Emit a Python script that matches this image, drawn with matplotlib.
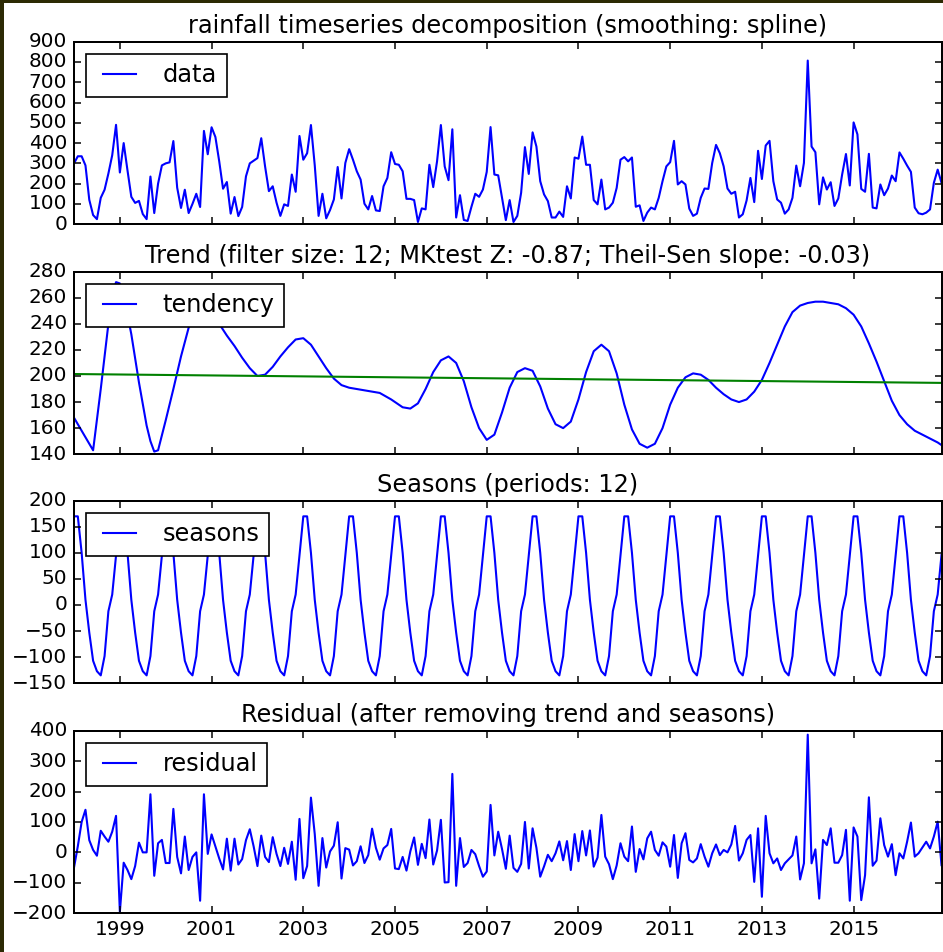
import numpy as np
import matplotlib.pyplot as plt
from matplotlib.patches import Rectangle

#Monthly rainfall, first value is January 1998.
start_year = 1998
rainfall = [300, 335, 335, 290, 120, 45, 25, 130, 170, 250, 340, 490,
            255, 400, 265, 135, 105, 115, 50, 25, 235, 55, 200, 290,
            300, 305, 410, 180, 80, 170, 55, 100, 150, 85, 460, 345,
            478, 430, 310, 175, 208, 52, 134, 40, 85, 236, 300, 313,
            326, 424, 285, 163, 187, 106, 41, 98, 90, 245, 160, 435,
            318, 350, 489, 290, 41, 150, 29, 70, 122, 282, 127, 302,
            370, 318, 261, 220, 101, 73, 139, 68, 65, 187, 228, 355,
            297, 293, 261, 125, 125, 119, 11, 78, 73, 293, 183, 310,
            489, 285, 217, 468, 33, 143, 21, 16, 86, 150, 135, 171,
            258, 479, 245, 241, 130, 20, 119, 11, 41, 155, 380, 248,
            453, 383, 212, 147, 114, 33, 33, 62, 36, 187, 127, 329,
            323, 432, 293, 293, 119, 98, 220, 73, 82, 106, 179, 318,
            331, 310, 329, 86, 93, 16, 57, 82, 73, 130, 212, 285,
            306, 411, 196, 212, 196, 77, 41, 52, 130, 176, 174, 302,
            391, 350, 285, 176, 150, 160, 33, 49, 117, 228, 109, 362,
            223, 388, 411, 212, 122, 106, 52, 73, 130, 289, 187, 302,
            807, 383, 355, 98, 231, 171, 207, 90, 127, 245, 346, 191,
            502, 443, 174, 160, 347, 82, 78, 196, 143, 176, 240, 212,
            354, 323, 289, 258, 82, 54, 49, 57, 73, 204, 269, 204]

#Smoothed trend, sampled at these month indices.
trend_months = [0, 2, 4, 5, 7, 9, 10, 11, 12, 13, 15, 17, 19, 20, 21, 22, 24, 26, 28, 30,
                32, 34, 36, 38, 40, 42, 44, 46, 48, 50, 52, 54, 56, 58, 60, 62, 64, 66, 68, 70,
                72, 76, 80, 83, 86, 88, 90, 92, 94, 96, 98, 100, 102, 104, 106, 108, 110, 112, 114, 116,
                118, 120, 122, 124, 126, 128, 130, 132, 134, 136, 138, 140, 142, 144, 146, 148, 150, 152, 154, 156,
                158, 160, 162, 164, 166, 168, 170, 172, 174, 176, 178, 180, 182, 184, 186, 188, 190, 192, 194, 196,
                198, 200, 202, 204, 206, 208, 210, 212, 214, 216, 218, 220, 222, 224, 226, 227]
trend_values = [168, 158, 148, 143, 190, 240, 262, 272, 271, 262, 232, 195, 162, 150, 142, 143, 166, 190, 215, 237,
                249, 253, 249, 240, 231, 223, 214, 206, 200, 201, 207, 215, 222, 228, 229, 224, 215, 206, 198, 193,
                191, 189, 187, 182, 176, 175, 179, 190, 203, 212, 215, 210, 196, 176, 160, 151, 155, 172, 191, 203,
                206, 204, 192, 175, 163, 160, 165, 182, 203, 219, 224, 219, 202, 178, 159, 148, 145, 148, 160, 178,
                191, 199, 202, 201, 197, 191, 186, 182, 180, 182, 188, 197, 210, 224, 238, 249, 254, 256, 257, 257,
                256, 255, 252, 247, 238, 225, 211, 196, 181, 170, 163, 158, 155, 152, 149, 147]

#Theil-Sen line, value at first and last month.
theil_sen_ends = [201.5, 194.7]

#One year of seasonal values (Jan..Dec).
season_year = [170, 170, 100, 10, -53, -107, -127, -135, -98, -12, 20, 96]

residual = [-50, 20, 100, 140, 40, 8, -11, 71, 52, 35, 68, 120,
            -196, -34, -58, -88, -45, 32, 0, 0, 191, -77, 30, 41,
            -35, -35, 143, -15, -69, 52, -58, -15, 0, -159, 191, -5,
            59, 20, -20, -56, 45, -60, 45, -40, -22, 40, 76, 20,
            -45, 55, -15, -32, 50, -5, -45, 15, -38, 35, -90, 110,
            -85, -45, 180, 60, -110, 47, -50, 3, 22, 99, -86, 14,
            9, -43, -29, 20, -35, -9, 78, 15, -24, 13, 24, 77,
            -53, -55, -15, -60, 3, 49, -41, 28, -19, 108, -40, 6,
            107, -99, -98, 258, -110, 47, -48, -35, 8, -6, -45, -80,
            -63, 156, -10, 68, 11, -54, 55, -51, -64, -38, 100, -53,
            79, 15, -80, -46, -8, -29, -3, 36, -26, 37, -58, 60,
            -29, 70, -10, 72, -47, -17, 123, -14, -39, -88, -43, 30,
            -14, -29, 85, -64, 11, -23, 46, 68, 8, -11, 33, 19,
            -47, 57, -84, 30, 63, -25, -33, -20, 27, -14, -47, -3,
            26, -9, 8, 0, 26, 87, -27, -3, 41, 57, -97, 79,
            -146, 120, -3, -36, -20, -58, -36, -23, -10, 52, -89, -36,
            387, -36, 10, -152, 41, 24, 79, -34, -34, -9, 74, -159,
            82, 52, -157, -75, 181, -44, -27, 112, 24, -14, 27, -75,
            -3, -20, 35, 98, -14, -3, 16, 35, 13, 52, 101, -42]

year_ticks = [1999, 2001, 2003, 2005, 2007, 2009, 2011, 2013, 2015]

titles = ['rainfall timeseries decomposition (smoothing: spline)',
          'Trend (filter size: 12; MKtest Z: -0.87; Theil-Sen slope: -0.03)',
          'Seasons (periods: 12)',
          'Residual (after removing trend and seasons)']
labels = ['data', 'tendency', 'seasons', 'residual']


def main():
    plt.style.use('classic')
    plt.rcParams['lines.linewidth'] = 1.25
    plt.rcParams['axes.linewidth'] = 1.2
    plt.rcParams['xtick.major.width'] = 0.9
    plt.rcParams['ytick.major.width'] = 0.9

    months = np.arange(len(rainfall))
    t = start_year + months / 12.0
    t_trend = start_year + np.array(trend_months) / 12.0
    seasons = np.tile(season_year, len(rainfall) // 12)

    fig = plt.figure(figsize=(943 / 120, 952 / 120), dpi=120, facecolor='white')

    #Axes boxes (left, bottom, width, height) in figure fractions.
    left = 74 / 943
    width = (941.5 - 74) / 943
    tops = [41.7, 271.7, 500.7, 730.7]
    height = 182.5 / 952

    axes = []
    for top in tops:
        ax = fig.add_axes([left, 1 - top / 952 - height, width, height])
        axes.append(ax)

    axes[0].plot(t, rainfall, label=labels[0])
    axes[0].set_ylim(0, 900)

    axes[1].plot(t_trend, trend_values, label=labels[1])
    axes[1].plot([t[0], t[-1]], theil_sen_ends, color='g')
    axes[1].set_ylim(140, 280)

    axes[2].plot(t, seasons, label=labels[2])
    axes[2].set_ylim(-150, 200)

    axes[3].plot(t, residual, label=labels[3])
    axes[3].set_ylim(-200, 400)

    for ax, title in zip(axes, titles):
        ax.set_title(title)
        ax.set_xlim(t[0], t[-1])
        ax.set_xticks(year_ticks)
        ax.legend(loc='upper left')
    for ax in axes[:-1]:
        ax.set_xticklabels([])
    axes[-1].set_xticklabels([str(y) for y in year_ticks])

    #Dark frame from the screenshot (top and left edges).
    fig.patches.append(Rectangle((0, 1 - 3 / 952), 1, 3 / 952, transform=fig.transFigure,
                                 facecolor='#2c2a04', edgecolor='none'))
    fig.patches.append(Rectangle((0, 0), 4 / 943, 1, transform=fig.transFigure,
                                 facecolor='#2c2a04', edgecolor='none'))

    fig.savefig('out.png', dpi=120, facecolor='white')


if __name__ == "__main__":
    main()
